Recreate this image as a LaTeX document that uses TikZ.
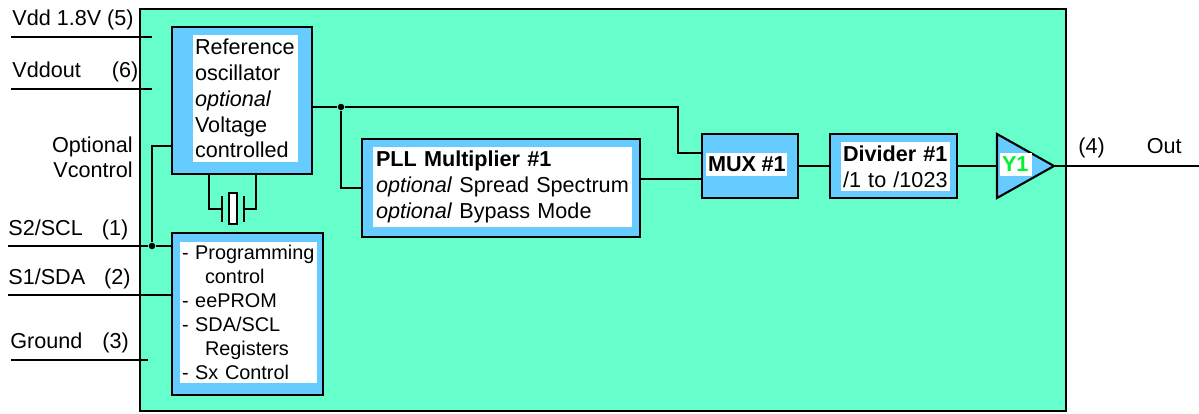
\documentclass[tikz,border=0pt]{standalone}
\usepackage{fontspec}
\setmainfont{Liberation Sans}
\usetikzlibrary{positioning, shapes.geometric}

\begin{document}
\begin{tikzpicture}
[x=0.02cm, y=-0.02cm,
   wire/.style={line width=1.2pt},
   chipB/.style={shape=rectangle, draw, line width=1.2pt, fill=chipgreen, inner sep=0},
   blockB/.style={shape=rectangle, draw, line width=1.2pt, fill=blockblue, inner sep=0},
   innerW/.style={shape=rectangle, fill=white, inner xsep=0.04cm, inner ysep=0, align=left, font=\fontsize{12.3}{14.7}\selectfont},
   pin/.style={anchor=base west, inner sep=0, font=\fontsize{12.3}{14.7}\selectfont},
   joint/.style={shape=circle, fill=black, inner sep=0, minimum size=0.13cm}]
\definecolor{chipgreen}{HTML}{66FFCC}
\definecolor{blockblue}{HTML}{66CCFF}
\definecolor{ygreen}{HTML}{00F032}
\useasboundingbox (0,0) rectangle (1199,413);
\node[chipB, minimum width=18.52cm, minimum height=8.04cm] (Chip) at (603,210) {};
% blocks
\node[blockB, minimum width=2.8cm, minimum height=2.94cm] (Ref) at (242,100.5) {};
\node[blockB, minimum width=3.02cm, minimum height=3.24cm] (Prog) at (247.5,314) {};
\node[blockB, minimum width=5.56cm, minimum height=1.96cm] (PLL) at (501,188) {};
\node[blockB, minimum width=1.92cm, minimum height=1.28cm] (MUX) at (750,166) {};
\node[blockB, minimum width=2.54cm, minimum height=1.28cm] (Div) at (893.5,166) {};
\node[blockB, shape=isosceles triangle, isosceles triangle stretches, shape border rotate=0, outer sep=0, minimum width=1.28cm, minimum height=1.14cm, anchor=lower side] (Amp) at (997,166) {};
% texts inside the blocks
\node[innerW, text width=2.02cm, minimum height=2.54cm] (RefT) at (245.5,98.5) {Reference \\ oscillator \\ \textit{optional} \\ Voltage \\ controlled};
\node[innerW, text width=2.66cm, minimum height=2.82cm, font=\fontsize{11.3}{13.6}\selectfont] (ProgT) at (248.5,312.5) {- Programming \\ \hspace*{0.46cm}control \\ - eePROM \\ - SDA/SCL \\ \hspace*{0.46cm}Registers \\ - Sx Control};
\node[innerW, text width=5.1cm, minimum height=1.6cm] (PLLT) at (502.5,187) {\hspace*{0.02cm}\textbf{PLL Multiplier \#1} \\ \hspace*{0.02cm}\textit{optional} Spread Spectrum \\ \hspace*{0.02cm}\textit{optional} Bypass Mode};
\node[innerW, text width=1.54cm, minimum height=0.46cm] (MUXT) at (746.5,164.5) {\mbox{\textbf{MUX\hspace{0.11cm}\#1}}};
\node[innerW, text width=2.1cm, minimum height=0.98cm] (DivT) at (895.5,166.5) {\textbf{Divider \#1} \\ /1 to /1023};
\node[innerW, text width=0.56cm, minimum height=0.46cm, text=ygreen, font=\fontsize{12.3}{14.7}\selectfont\bfseries] (AmpT) at (1016,164.5) {Y1};
% pin labels
\node[pin] (VddL) at (12,25) {Vdd 1.8V (5)};
\node[pin] (VoutL) at (12,77) {Vddout\hspace{0.62cm}(6)};
\node[pin, anchor=north east, text width=2.2cm, align=right] (VctlL) at (133,136) {Optional \\ Vcontrol};
\node[pin] (SclL) at (8,235) {S2/SCL\hspace{0.38cm}(1)};
\node[pin] (SdaL) at (8,284) {S1/SDA\hspace{0.38cm}(2)};
\node[pin] (GndL) at (10,348) {Ground\hspace{0.4cm}(3)};
\node[pin] (OutL) at (1078,153) {(4)\hspace{0.84cm}Out};
% junctions and free ends
\node[joint] (JOsc) at (341,107) {};
\node[joint] (JScl) at (152,246) {};
\coordinate (VddA) at (11,37);
\coordinate (VddB) at (152,37);
\coordinate (VoutA) at (11,89);
\coordinate (VoutB) at (152,89);
\coordinate (SclA) at (8,246);
\coordinate (SdaA) at (8,295);
\coordinate (GndA) at (11,360);
\coordinate (GndB) at (148,360);
\coordinate (VctlB) at (172,146);
\coordinate (MuxA) at (678,153);
\coordinate (PllO) at (640,179);
\coordinate (OutB) at (1199,166);
% crystal
\node[shape=rectangle, draw, line width=1.2pt, fill=white, inner sep=0, minimum width=0.17cm, minimum height=0.61cm] (Xtal) at (233,208.5) {};
\coordinate (PlateL) at (222,209);
\coordinate (PlateR) at (244,209);
\coordinate (XtalA) at (209,174);
\coordinate (XtalB) at (256,174);
\draw [wire] ([yshift=0.26cm]PlateL) to ([yshift=-0.26cm]PlateL);
\draw [wire] ([yshift=0.26cm]PlateR) to ([yshift=-0.26cm]PlateR);
\draw [wire] (XtalA) |- (PlateL);
\draw [wire] (XtalB) |- (PlateR);
% connectors
\draw [wire] (VddA) to (VddB);
\draw [wire] (VoutA) to (VoutB);
\draw [wire] (SclA) to (JScl);
\draw [wire] (JScl) to (JScl -| Prog.west);
\draw [wire] (SdaA) to (SdaA -| Prog.west);
\draw [wire] (GndA) to (GndB);
\draw [wire] (JScl) |- (VctlB);
\draw [wire] (JOsc -| Ref.east) to (JOsc);
\draw [wire] (JOsc) |- (PLL.west);
\draw [wire] (JOsc) -| (MuxA) -- (MuxA -| MUX.west);
\draw [wire] (PllO) to (PllO -| MUX.west);
\draw [wire] (MUX.east) to (Div.west);
\draw [wire] (Div.east) to (Amp.lower side);
\draw [wire] (Amp.apex) to (OutB);
\end{tikzpicture}
\end{document}
